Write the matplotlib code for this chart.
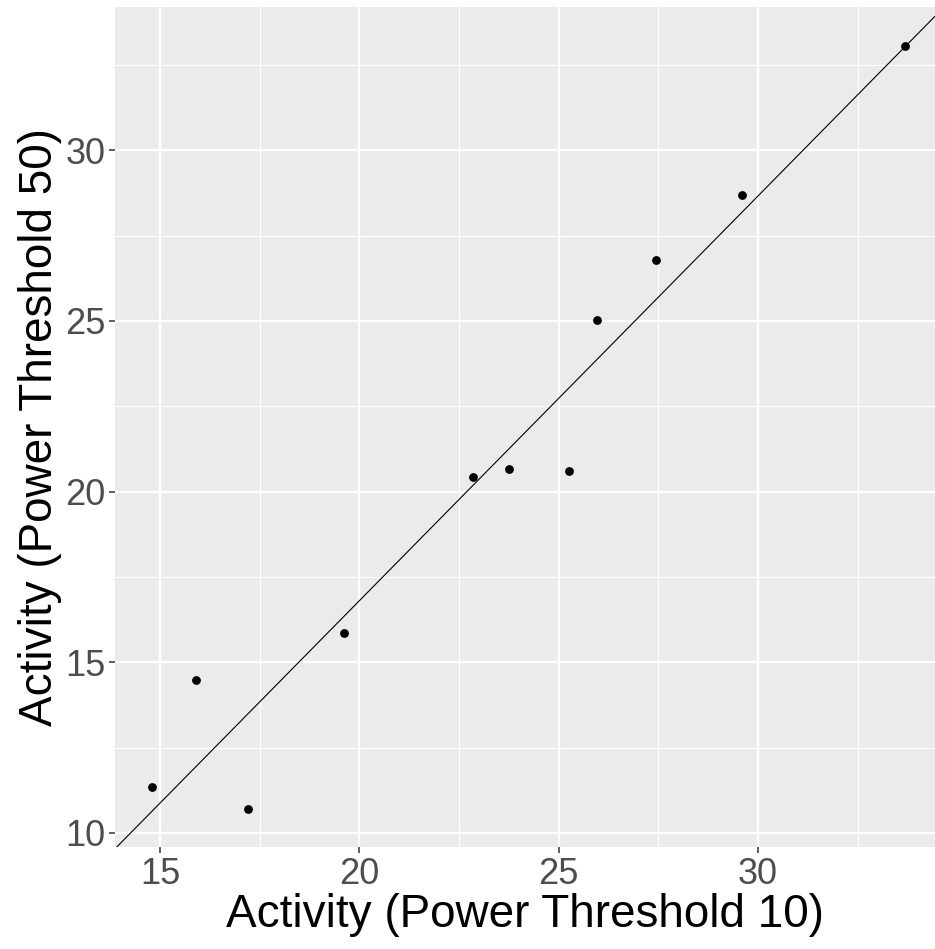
import matplotlib
matplotlib.use("Agg")
import matplotlib.pyplot as plt
from matplotlib.ticker import MultipleLocator
import numpy as np

# activity values
activity_thr10 = [14.80, 15.90, 17.21, 19.61, 22.85, 23.75, 25.26, 25.96, 27.44, 29.60, 33.69]
activity_thr50 = [11.35, 14.48, 10.70, 15.86, 20.42, 20.66, 20.60, 25.02, 26.78, 28.68, 33.05]

x_ticks = [15, 20, 25, 30]
y_ticks = [10, 15, 20, 25, 30]

plt.rcParams['font.family'] = ['Liberation Sans', 'DejaVu Sans']

fig = plt.figure(figsize=(9.35, 9.49), dpi=100)
ax = fig.add_axes([0.123, 0.1075, 0.877, 0.885])
ax.set_facecolor('#EBEBEB')

# fitted line (lm) through the points, across the whole panel
slope, intercept = np.polyfit(activity_thr10, activity_thr50, 1)
ax.axline((0, intercept), slope=slope, color='black', lw=0.8, zorder=2)

ax.scatter(activity_thr10, activity_thr50, s=40, color='black', zorder=3, linewidths=0)

ax.set_xlim(13.87, 34.44)
ax.set_ylim(9.59, 34.19)
ax.set_xticks(x_ticks)
ax.set_yticks(y_ticks)
ax.xaxis.set_minor_locator(MultipleLocator(2.5))
ax.yaxis.set_minor_locator(MultipleLocator(2.5))
ax.grid(which='major', color='white', lw=1.6)
ax.grid(which='minor', color='white', lw=0.8)
ax.set_axisbelow(True)
for s in ax.spines.values():
    s.set_visible(False)

ax.tick_params(which='major', length=4, width=1.1, color='#333333',
               labelsize=26, labelcolor='#4D4D4D', pad=3)
ax.tick_params(which='minor', length=0)

ax.set_xlabel('Activity (Power Threshold 10)', fontsize=33, color='black', labelpad=1)
ax.set_ylabel('Activity (Power Threshold 50)', fontsize=33, color='black', labelpad=2)

fig.savefig('out.png', dpi=100)
